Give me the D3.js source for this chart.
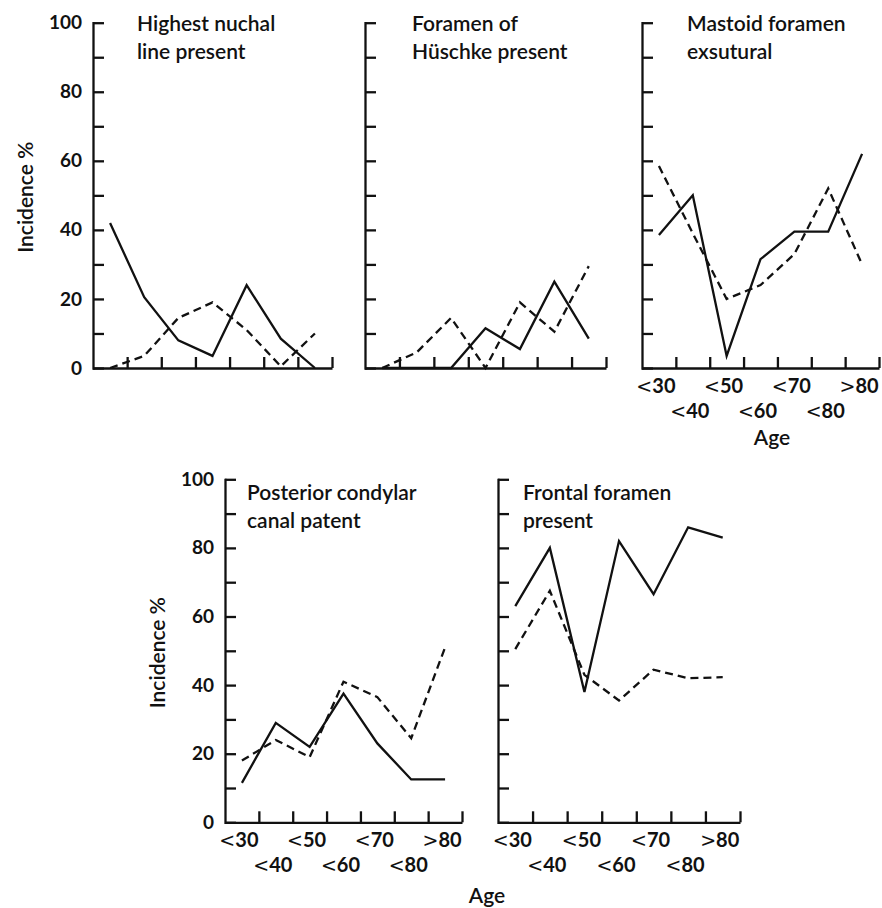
<!DOCTYPE html>
<html>
<head>
<meta charset="utf-8">
<script src="https://cdn.jsdelivr.net/npm/d3@7"></script>
<style>
  body { margin: 0; background: #fff; }
  svg text { font-family: Lato, "Open Sans", sans-serif; fill: #111; }
  .axis path, .axis line { stroke: #111; stroke-width: 2.3; }
</style>
</head>
<body>
<svg id="chart" width="882" height="908"></svg>
<script>
// age groups (x categories)
var categories = ["<30", "<40", "<50", "<60", "<70", "<80", ">80"];
var yTicks = [0, 20, 40, 60, 80, 100];

// values (incidence %), solid and dashed series
var nuchalSolid   = [42, 20.5, 8, 3.5, 24, 8.5, 0];
var nuchalDashed  = [0, 3.5, 14.5, 19, 11, 0.5, 10];
var huschkeSolid  = [0, 0, 0, 11.5, 5.5, 25, 8.5];
var huschkeDashed = [0, 4.5, 14.5, 0, 19, 10.5, 29.5];
var mastoidSolid  = [38.5, 50, 3.5, 31.5, 39.5, 39.5, 62];
var mastoidDashed = [58.5, 39, 20, 24, 33, 52, 30];
var condylarSolid  = [11.5, 29, 22, 37.5, 23, 12.5, 12.5];
var condylarDashed = [18, 24, 19, 41, 36.5, 24.5, 51];
var frontalSolid  = [63, 80, 38, 82, 66.5, 86, 83];
var frontalDashed = [50.5, 67.5, 43, 35.5, 44.5, 42, 42.3];

var svg = d3.select("#chart");

var panels = [
  {title: ["Highest nuchal", "line present"], solid: nuchalSolid, dashed: nuchalDashed,
   left: 93, right: 332, top: 22.7, bottom: 368, titleDx: 44, titleDy: 8,
   yLabels: true, xLabels: false, ageX: null},
  {title: ["Foramen of", "Hüschke present"], solid: huschkeSolid, dashed: huschkeDashed,
   left: 365, right: 606, top: 22.7, bottom: 368, titleDx: 47, titleDy: 8,
   yLabels: false, xLabels: false, ageX: null},
  {title: ["Mastoid foramen", "exsutural"], solid: mastoidSolid, dashed: mastoidDashed,
   left: 642, right: 879, top: 22.7, bottom: 368, titleDx: 45, titleDy: 8,
   yLabels: false, xLabels: true, ageX: 772},
  {title: ["Posterior condylar", "canal patent"], solid: condylarSolid, dashed: condylarDashed,
   left: 225, right: 462, top: 479.3, bottom: 822.3, titleDx: 22, titleDy: 21,
   yLabels: true, xLabels: true, ageX: null},
  {title: ["Frontal foramen", "present"], solid: frontalSolid, dashed: frontalDashed,
   left: 498, right: 740, top: 479.3, bottom: 822.3, titleDx: 25, titleDy: 21,
   yLabels: false, xLabels: true, ageX: 487}
];

panels.forEach(function(p) {
  var g = svg.append("g");

  var x = d3.scaleBand().domain(categories).range([p.left, p.right]).padding(0);
  var xEdge = d3.scaleLinear().domain([0, categories.length]).range([p.left, p.right]);
  var y = d3.scaleLinear().domain([0, 100]).range([p.bottom, p.top]);

  // x axis: ticks on the class boundaries, pointing up
  g.append("g").attr("class", "axis")
    .attr("transform", "translate(0," + p.bottom + ")")
    .call(d3.axisBottom(xEdge).tickValues(d3.range(1, categories.length + 1))
      .tickSizeInner(-11).tickSizeOuter(0).tickFormat(""));

  // y axis: minor ticks every 10, labels every 20
  var yAxis = g.append("g").attr("class", "axis")
    .attr("transform", "translate(" + p.left + ",0)")
    .call(d3.axisLeft(y).tickValues(d3.range(0, 101, 10))
      .tickSizeInner(-11).tickSizeOuter(0).tickPadding(11)
      .tickFormat(function(d) { return (p.yLabels && yTicks.indexOf(d) >= 0) ? d : ""; }));
  yAxis.selectAll("text").attr("font-size", 19).attr("font-weight", "bold")
    .attr("font-family", "Lato, sans-serif");
  yAxis.select(".domain").attr("stroke-linecap", "square");

  // lines
  var line = d3.line()
    .x(function(d, i) { return x(categories[i]) + x.bandwidth() / 2; })
    .y(function(d) { return y(d); });

  g.append("path").datum(p.dashed)
    .attr("d", line).attr("fill", "none").attr("stroke", "#111")
    .attr("stroke-width", 2.3).attr("stroke-dasharray", "8,5");
  g.append("path").datum(p.solid)
    .attr("d", line).attr("fill", "none").attr("stroke", "#111")
    .attr("stroke-width", 2.3).attr("stroke-linejoin", "miter");

  // title
  g.append("text")
    .attr("x", p.left + p.titleDx).attr("y", p.top + p.titleDy)
    .attr("font-size", 21).attr("font-weight", 600)
    .selectAll("tspan").data(p.title).enter().append("tspan")
    .attr("x", p.left + p.titleDx).attr("dy", function(d, i) { return i == 0 ? 0 : 28; })
    .text(function(d) { return d; });

  // age labels, staggered in two rows; the < sign is drawn wide
  if (p.xLabels) {
    var lab = g.selectAll(".xlab").data(categories).enter().append("text")
      .attr("x", function(d) { return x(d) + x.bandwidth() / 2 - 3; })
      .attr("y", function(d, i) { return p.bottom + (i % 2 == 0 ? 25 : 50); })
      .attr("text-anchor", "middle");
    lab.append("tspan").attr("font-family", "DejaVu Sans, sans-serif")
      .attr("font-size", 19).text(function(d) { return d.charAt(0); });
    lab.append("tspan").attr("font-size", 20).attr("font-weight", "bold")
      .text(function(d) { return d.slice(1); });
  }
  if (p.ageX != null) {
    g.append("text").attr("x", p.ageX).attr("y", p.bottom + (p.top > 100 ? 81 : 77))
      .attr("text-anchor", "middle").attr("font-size", 21).attr("font-weight", 600)
      .text("Age");
  }
  if (p.yLabels) {
    g.append("text")
      .attr("transform", "translate(" + (p.left - 60) + "," + ((p.top + p.bottom) / 2 + 2) + ") rotate(-90)")
      .attr("text-anchor", "middle").attr("font-size", 21).attr("font-weight", 600)
      .text("Incidence %");
  }
});
</script>
</body>
</html>
